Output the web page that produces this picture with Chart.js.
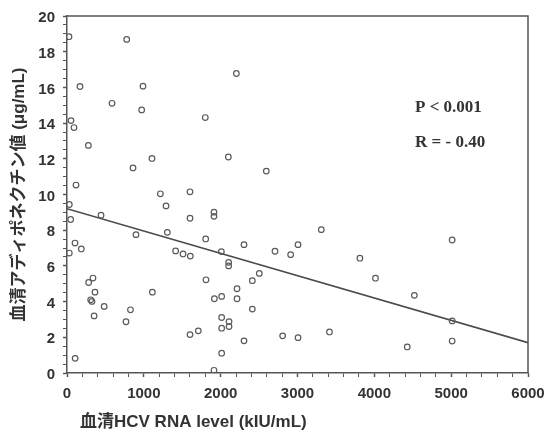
<!DOCTYPE html>
<html><head><meta charset="utf-8">
<script src="https://cdn.jsdelivr.net/npm/chart.js@4"></script>
<style>html,body{margin:0;padding:0;background:#fff;}canvas{display:block;}</style>
</head><body>
<canvas id="c" width="548" height="431"></canvas>
<script>
// ---- data ----
const hcvRNA = [26,777,169,989,586,972,52,91,278,1106,859,117,1215,1601,2204,1800,2100,2594,
  30,48,443,1289,1601,898,1306,104,186,30,1414,1510,1605,282,338,364,308,325,484,353,1111,826,768,
  1601,1709,106,1913,1913,1805,2009,2304,2707,2911,3007,3310,3812,4015,2104,2104,1809,2412,2503,
  2213,2213,2013,1918,2412,2013,2109,2109,2013,2304,2807,3007,3416,2013,1913,5013,4521,5013,5013,4428];
const adiponectin = [18.84,18.69,16.05,16.07,15.11,14.74,14.14,13.75,12.75,12.02,11.49,10.53,10.04,10.15,16.78,14.31,12.10,11.31,
  9.44,8.60,8.84,9.36,8.67,7.75,7.88,7.28,6.95,6.72,6.84,6.67,6.55,5.07,5.32,4.53,4.10,4.01,3.73,3.20,4.53,3.54,2.87,
  2.15,2.36,0.82,9.01,8.78,7.51,6.80,7.19,6.82,6.63,7.19,8.03,6.43,5.31,6.20,6.00,5.22,5.17,5.58,
  4.72,4.16,4.29,4.16,3.58,3.11,2.88,2.60,2.51,1.80,2.08,1.98,2.30,1.11,0.15,7.45,4.35,2.92,1.79,1.46];
const fitX = [0, 6000];
const fitY = [9.2, 1.7];
const xTickLabels = [0,1000,2000,3000,4000,5000,6000];
const yTickLabels = [0,2,4,6,8,10,12,14,16,18,20];
const xTitle = '血清HCV RNA level (kIU/mL)';
const yTitle = '血清アディポネクチン値 (μg/mL)';
const statLines = ['P < 0.001', 'R = - 0.40'];

const scatterPts = hcvRNA.map((x,i)=>({x, y: adiponectin[i]}));
const fitPts = fitX.map((x,i)=>({x, y: fitY[i]}));

const SANS = '"Liberation Sans", Arial, "Noto Sans CJK JP", sans-serif';
const INK = '#333';
const AXIS = '#555';

const overlay = {
  id: 'overlay',
  afterDraw(chart){
    const {ctx, chartArea: a} = chart;
    ctx.save();
    ctx.strokeStyle = AXIS; ctx.lineWidth = 1.5;
    ctx.beginPath();
    ctx.moveTo(a.left, a.top); ctx.lineTo(a.right, a.top); ctx.lineTo(a.right, a.bottom);
    ctx.stroke();
    ctx.fillStyle = INK;
    ctx.textAlign = 'left'; ctx.textBaseline = 'middle';
    ctx.font = 'bold 17px "Liberation Serif", "Times New Roman", serif';
    ctx.fillText(statLines[0], a.left + 348, a.top + 92);
    ctx.fillText(statLines[1], a.left + 348, a.top + 127);
    ctx.font = 'bold 17px ' + SANS;
    ctx.fillText(xTitle, a.left + 13, 422);
    ctx.restore();
  }
};

new Chart(document.getElementById('c'), {
  type: 'scatter',
  data: {
    datasets: [
      { label: 'data', data: scatterPts, pointStyle: 'circle', pointRadius: 2.8, pointHoverRadius: 2.8,
        backgroundColor: 'rgba(0,0,0,0)', borderColor: '#5a5a5a', borderWidth: 1.2 },
      { type: 'line', label: 'fit', data: fitPts, borderColor: '#4a4a4a', borderWidth: 1.5,
        pointRadius: 0, fill: false, tension: 0 }
    ]
  },
  options: {
    responsive: false,
    devicePixelRatio: 1,
    animation: false,
    layout: { padding: { top: 16, right: 20, left: 0, bottom: 0 } },
    plugins: { legend: { display: false }, tooltip: { enabled: false } },
    scales: {
      x: {
        type: 'linear', min: 0, max: 6000,
        afterFit: s => { s.height = 58; s.paddingRight = 0; s.paddingLeft = 0; },
        ticks: {
          stepSize: 200, autoSkip: false, maxRotation: 0, padding: 8,
          color: INK, font: { family: SANS, size: 15, weight: 'bold' },
          callback: v => xTickLabels.includes(v) ? String(v) : ''
        },
        grid: { drawOnChartArea: false, drawTicks: true, tickLength: 4, tickColor: AXIS,
          tickWidth: c => (c.tick && xTickLabels.includes(c.tick.value)) ? 1.5 : 1 },
        border: { display: true, color: AXIS, width: 1.5 }
      },
      y: {
        type: 'linear', min: 0, max: 20,
        afterFit: s => { s.width = 67; s.paddingTop = 0; s.paddingBottom = 0; },
        ticks: {
          stepSize: 0.5, autoSkip: false, padding: 8, labelOffset: 2,
          color: INK, font: { family: SANS, size: 15, weight: 'bold' },
          callback: v => yTickLabels.includes(v) ? String(v) : ''
        },
        grid: { drawOnChartArea: false, drawTicks: true, tickLength: 4, tickColor: AXIS,
          tickWidth: c => (c.tick && yTickLabels.includes(c.tick.value)) ? 1.5 : 1 },
        border: { display: true, color: AXIS, width: 1.5 },
        title: { display: true, text: yTitle, color: INK,
          font: { family: SANS, size: 17, weight: 'bold' }, padding: { top: 9, bottom: 0 } }
      }
    }
  },
  plugins: [overlay]
});
</script>
</body></html>
